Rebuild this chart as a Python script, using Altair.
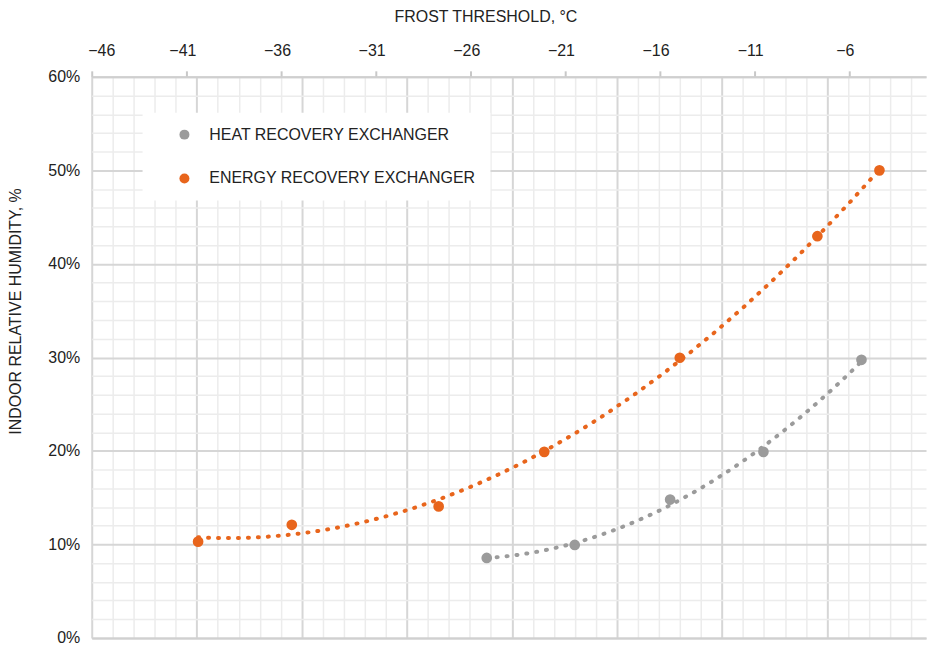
import altair as alt
import pandas as pd

# ---- data ----
series_names = ["HEAT RECOVERY EXCHANGER", "ENERGY RECOVERY EXCHANGER"]
series_colors = ["#9b9b9b", "#e8651c"]

heat_x = [-25.13, -20.48, -15.44, -10.51, -5.33]
heat_y = [8.56, 9.95, 14.8, 19.9, 29.74]

energy_x = [-40.38, -35.43, -27.67, -22.09, -14.93, -7.66, -4.38]
energy_y = [10.3, 12.1, 14.07, 19.9, 29.96, 42.96, 50.0]

x_ticks = [-46, -41, -36, -31, -26, -21, -16, -11, -6]
x_domain = [-46, -1.92]
y_domain = [0, 60]
y_grid_values = list(range(0, 61, 2))
grid_domain = [0, 39.71]
grid_values = list(range(0, 40))

FONT = "Liberation Sans"
TEXT = "#222222"

df = pd.DataFrame({
    "t": heat_x + energy_x,
    "rh": heat_y + energy_y,
    "series": [series_names[0]] * len(heat_x) + [series_names[1]] * len(energy_x),
})
grid_df = pd.DataFrame({"g": grid_domain})

xscale = alt.Scale(domain=x_domain, nice=False, zero=False)
yscale = alt.Scale(domain=y_domain, nice=False, zero=False)
color_scale = alt.Scale(domain=series_names, range=series_colors)

xaxis = alt.Axis(
    orient="top", values=x_ticks, grid=False, title="FROST THRESHOLD, °C",
    domainColor="#cfcfcf", domainWidth=2, tickColor="#c8c8c8", tickWidth=2,
    tickSize=6, labelPadding=12, labelOffset=-4,
    titleX=395, titleY=-55, titleAlign="center", titleBaseline="alphabetic",
)
yaxis = alt.Axis(
    values=y_grid_values,
    labelExpr="datum.value % 10 === 0 ? datum.value + '%' : ''",
    ticks=False, domain=False, title="INDOOR RELATIVE HUMIDITY, %",
    labelPadding=12,
    gridColor={"condition": {"test": "datum.value % 10 === 0", "value": "#d6d6d6"}, "value": "#ececec"},
    gridWidth={"condition": {"test": "datum.value % 10 === 0", "value": 2}, "value": 1.5},
    titleX=-76, titleY=235, titleAlign="center", titleBaseline="middle",
)

legend = alt.Legend(
    title=None, orient="none", legendX=51, legendY=36, fillColor="white",
    padding=14, symbolOffset=20, symbolType="circle", symbolSize=100,
    labelFontSize=16, labelFont=FONT, labelColor=TEXT, labelOffset=17,
    rowPadding=28, labelLimit=500,
)

grid_layer = alt.Chart(grid_df).mark_point(opacity=0).encode(
    x=alt.X("g:Q", scale=alt.Scale(domain=grid_domain, nice=False, zero=False),
            axis=alt.Axis(orient="bottom", values=grid_values, labels=False, ticks=False,
                          title=None, domain=True, domainColor="#d0d0d0", domainWidth=2,
                          grid=True,
                          gridColor={"condition": {"test": "datum.value % 5 === 0", "value": "#d6d6d6"}, "value": "#ececec"},
                          gridWidth={"condition": {"test": "datum.value % 5 === 0", "value": 2}, "value": 1.5})),
)

points = alt.Chart(df).mark_circle(size=115, opacity=1).encode(
    x=alt.X("t:Q", scale=xscale, axis=xaxis),
    y=alt.Y("rh:Q", scale=yscale, axis=yaxis),
    color=alt.Color("series:N", scale=color_scale, legend=legend),
)

lines = alt.Chart(df).transform_regression(
    "t", "rh", method="poly", order=2, groupby=["series"]
).mark_line(strokeDash=[1, 9], strokeCap="round", strokeWidth=4).encode(
    x=alt.X("t:Q", scale=xscale, axis=xaxis),
    y=alt.Y("rh:Q", scale=yscale, axis=yaxis),
    color=alt.Color("series:N", scale=color_scale, legend=legend),
)

main = alt.layer(points, lines)

chart = alt.layer(grid_layer, main).resolve_scale(x="independent").properties(
    width=837, height=563, padding={"left": 0, "top": 0, "right": 0, "bottom": 0},
).configure_axis(
    labelFont=FONT, titleFont=FONT, labelFontSize=16, titleFontSize=16,
    labelColor=TEXT, titleColor=TEXT, titleFontWeight="normal",
).configure_legend(symbolStrokeWidth=0).configure_view(stroke=None)

chart.save("out.html", embed_options={"renderer": "svg", "actions": False})
